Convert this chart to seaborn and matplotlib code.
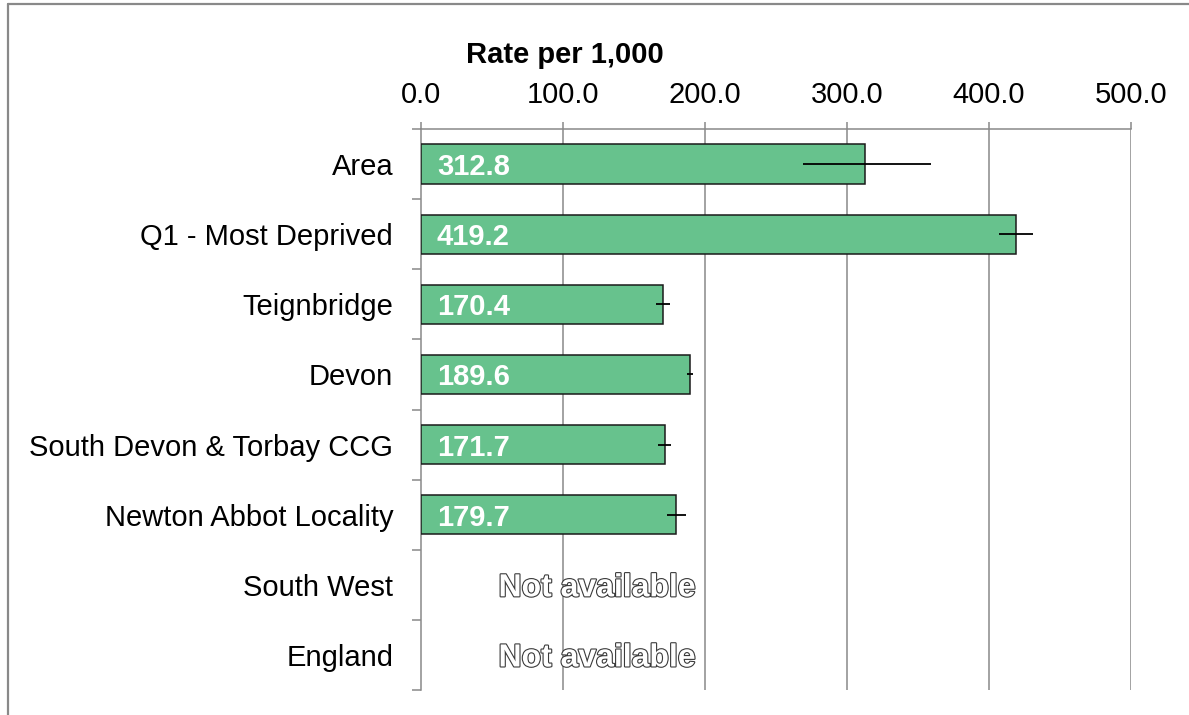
import numpy as np
import pandas as pd
import matplotlib
matplotlib.use("Agg")
import matplotlib.pyplot as plt
import matplotlib.patheffects as pe
from matplotlib.lines import Line2D
import seaborn as sns

# ---- data ----
categories = ["Area", "Q1 - Most Deprived", "Teignbridge", "Devon",
              "South Devon & Torbay CCG", "Newton Abbot Locality",
              "South West", "England"]
values = [312.8, 419.2, 170.4, 189.6, 171.7, 179.7, np.nan, np.nan]
lower_ci = [269.0, 407.0, 165.5, 187.3, 167.0, 173.2, np.nan, np.nan]
upper_ci = [359.0, 431.0, 175.4, 191.5, 176.0, 186.6, np.nan, np.nan]
xticks = [0, 100, 200, 300, 400, 500]
axis_title = "Rate per 1,000"
na_text = "Not available"

sns.set_theme(style="white")
plt.rcParams["font.family"] = ["Liberation Sans", "DejaVu Sans"]

FS = 21
GRAY = "#898989"
GREEN = "#67C28D"

fig = plt.figure(figsize=(11.89, 7.15), dpi=100)
W, H = 1189, 715
ax = fig.add_axes([421 / W, 1 - 690 / H, (1131 - 421) / W, (690 - 129) / H])

df = pd.DataFrame({"cat": categories, "val": values})
sns.barplot(data=df, y="cat", x="val", order=categories, orient="h",
            color=GREEN, saturation=1, edgecolor="#1a1a1a", linewidth=1.1,
            width=0.56, errorbar=None, ax=ax, zorder=3)

ypos = np.arange(len(categories))
for y, v, lo, hi in zip(ypos, values, lower_ci, upper_ci):
    if np.isnan(v):
        ax.text(193.5, y, na_text, ha="right", va="center_baseline",
                fontsize=23, fontweight="bold", color="white", zorder=5,
                path_effects=[pe.withStroke(linewidth=1.6, foreground="#3a3a3a")])
        continue
    ax.errorbar(v, y, xerr=[[v - lo], [hi - v]], fmt="none", ecolor="black",
                elinewidth=1.3, capsize=0, zorder=4)
    ax.annotate(f"{v:.1f}", xy=(0, y), xytext=(11.5, 0), textcoords="offset points",
                ha="left", va="center_baseline", color="white",
                fontsize=FS, fontweight="bold", zorder=5)

ax.set_xlim(0, 500)
ax.set_ylim(len(categories) - 0.5, -0.5)
ax.xaxis.tick_top()
ax.set_xticks(xticks)
ax.set_xticklabels([f"{t:.1f}" for t in xticks], fontsize=FS)
ax.set_xlabel("")
ax.set_ylabel("")
ax.tick_params(axis="x", which="major", direction="out", length=5, width=1.1,
               color=GRAY, pad=9.5, top=True, bottom=False, labelcolor="black")
ax.set_yticks(ypos)
ax.set_yticklabels(categories, fontsize=FS)
ax.set_yticks(np.arange(-0.5, len(categories)), minor=True)
ax.tick_params(axis="y", which="major", length=0, pad=20, labelcolor="black")
ax.tick_params(axis="y", which="minor", direction="out", length=6.5, width=1.1,
               color=GRAY, left=True)

ax.grid(False)
ax.set_axisbelow(True)
for t in xticks[1:]:
    ax.axvline(t, color=GRAY, linewidth=1.1, zorder=1)

for s in ["right", "bottom"]:
    ax.spines[s].set_visible(False)
for s in ["left", "top"]:
    ax.spines[s].set_color(GRAY)
    ax.spines[s].set_linewidth(1.1)

fig.text(565 / W, 1 - 63 / H, axis_title, ha="center", va="baseline",
         fontsize=FS, fontweight="bold", color="black")

# outer frame
fig.add_artist(Line2D([8 / W, 1.0], [1 - 4 / H, 1 - 4 / H], transform=fig.transFigure,
                      color=GRAY, linewidth=1.6))
fig.add_artist(Line2D([8 / W, 8 / W], [0.0, 1 - 4 / H], transform=fig.transFigure,
                      color=GRAY, linewidth=1.6))

fig.savefig("out.png", dpi=100, facecolor="white")
